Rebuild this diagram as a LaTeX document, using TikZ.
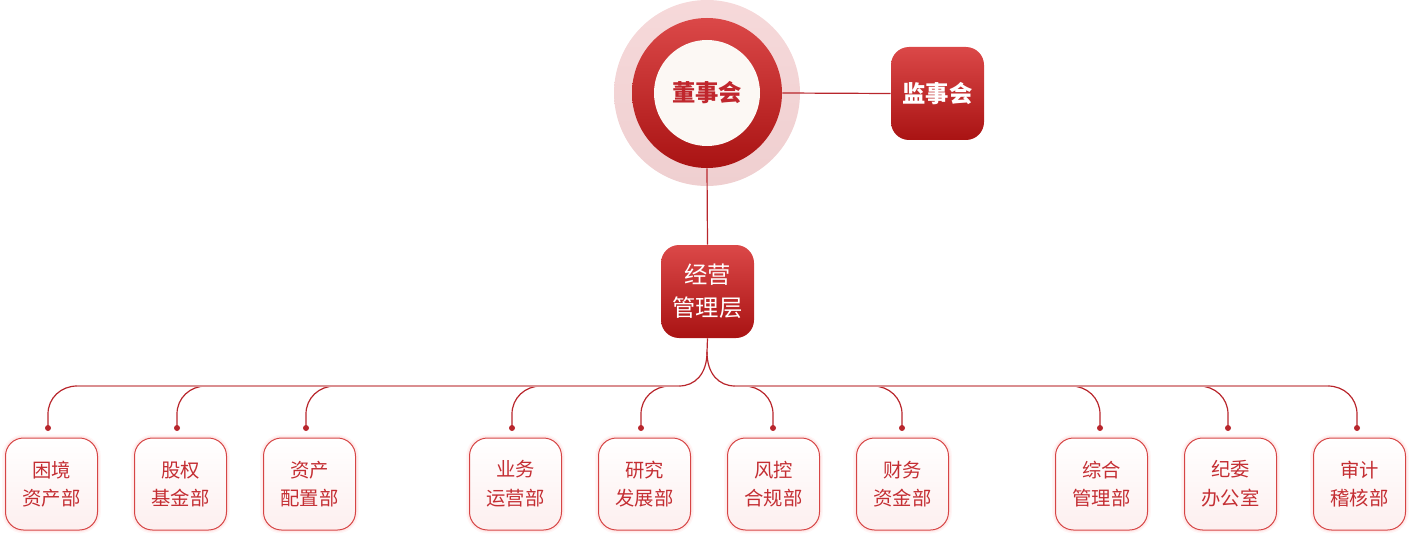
\documentclass[tikz,border=0pt]{standalone}
\usepackage{fontspec}
\setmainfont{Noto Sans CJK SC}
\definecolor{dred}{HTML}{B8262C}
\definecolor{rtop}{HTML}{DB4848}
\definecolor{rbot}{HTML}{A91313}
\definecolor{halotop}{HTML}{F6D9DA}
\definecolor{halobot}{HTML}{EFCFD0}
\definecolor{cream}{HTML}{FCF8F4}
\definecolor{hline}{HTML}{DA8E90}
\definecolor{cborder}{HTML}{D64545}
\definecolor{ctext}{HTML}{C42E33}
\definecolor{cfill}{HTML}{FDEFEF}
\definecolor{btext}{HTML}{C0272D}
\begin{document}
\begin{tikzpicture}[x=0.75pt,y=-0.75pt,
  redbox/.style={rounded corners=13.5pt, minimum width=69.75pt, minimum height=69.75pt, inner sep=0pt,
    top color=rtop, bottom color=rbot, text=white, font=\fontsize{17.5}{25}\selectfont, align=center},
  dept/.style={rounded corners=13.5pt, minimum width=69pt, minimum height=69pt, inner sep=0pt,
    draw=cborder, line width=0.75pt, top color=white, bottom color=cfill, text=ctext,
    font=\fontsize{14.5}{21.5}\selectfont, align=center,
    preaction={draw=red!70, line width=5pt, opacity=0.05},
    preaction={draw=red!70, line width=3pt, opacity=0.07}},
  conn/.style={draw=dred, line width=0.9pt},
  branch/.style={draw=dred, line width=0.9pt},
  rail/.style={draw=hline, line width=1.4pt},
  dotc/.style={circle, fill=dred, inner sep=0pt, minimum size=4.5pt}]
\useasboundingbox (0,0) rectangle (1411,535);

% board circles
\node[circle, minimum size=139.5pt, inner sep=0pt, top color=halotop, bottom color=halobot] (halo) at (707,93) {};
\node[circle, minimum size=112.5pt, inner sep=0pt, top color=rtop, bottom color=rbot] (board) at (707,93) {};
\node[circle, minimum size=79.5pt, inner sep=0pt, fill=cream, text=btext,
  font=\fontsize{17.5}{20}\selectfont\bfseries] (boardtext) at (707,93) {董事会};

% supervisors and management
\node[redbox, font=\fontsize{17.5}{20}\selectfont\bfseries] (sup) at (937.5,93.5) {监事会};
\node[redbox] (mgmt) at (707.5,291.5) {经营\\管理层};

\draw[conn] (board.east) -- (sup.west);
\draw[conn] (board.south) -- (mgmt.north);

% split
\coordinate (sp) at (707,352);
\coordinate (sl) at (679,386);
\coordinate (sr) at (735,386);
\draw[conn] (mgmt.south) -- (sp);
\draw[branch] (sp) .. controls +(0,22) and +(16,0) .. (sl);
\draw[branch] (sp) .. controls +(0,22) and +(-16,0) .. (sr);

% branches
\foreach \i/\x/\s in {1/48/1,2/177/1,3/306/1,4/512/1,5/641/1,6/773/-1,7/902/-1,8/1100/-1,9/1228/-1,10/1357/-1}{
  \coordinate (t\i) at ({\x+\s*29},386);
  \coordinate (k\i) at (\x,414);
  \node[dotc] (d\i) at (\x,428) {};
  \draw[branch] (t\i) .. controls +({-16*\s},0) and +(0,-16) .. (k\i) -- (d\i.center);
}
\draw[rail] (t1) -- (sl);
\draw[rail] (sr) -- (t10);

% departments
\node[dept] (c1) at (51.5,484) {困境\\资产部};
\node[dept] (c2) at (180.5,484) {股权\\基金部};
\node[dept] (c3) at (309.5,484) {资产\\配置部};
\node[dept] (c4) at (515.5,484) {业务\\运营部};
\node[dept] (c5) at (644.5,484) {研究\\发展部};
\node[dept] (c6) at (773.5,484) {风控\\合规部};
\node[dept] (c7) at (902.5,484) {财务\\资金部};
\node[dept] (c8) at (1101.5,484) {综合\\管理部};
\node[dept] (c9) at (1230.5,484) {纪委\\办公室};
\node[dept] (c10) at (1359.5,484) {审计\\稽核部};
\end{tikzpicture}
\end{document}
